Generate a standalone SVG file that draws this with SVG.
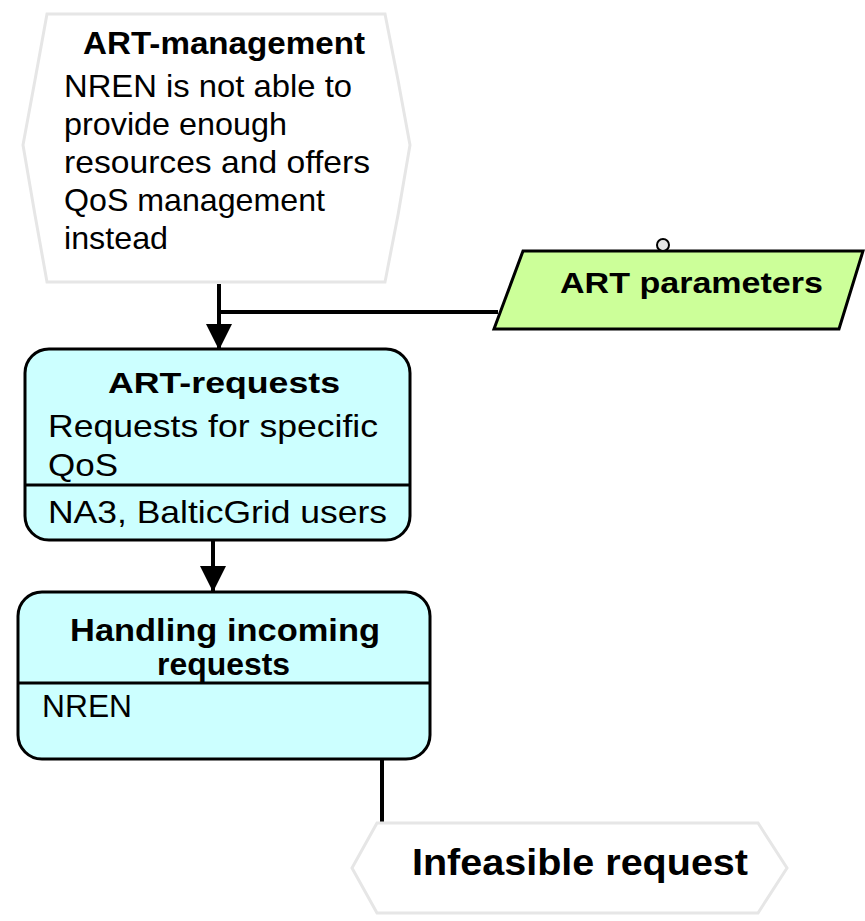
<svg xmlns="http://www.w3.org/2000/svg" width="865" height="921" viewBox="0 0 865 921">
  <style>
    text { font-family: "Liberation Sans", Arial, sans-serif; fill: #000; }
    .t { font-weight: bold; }
    .body { font-size: 32px; }
    .event { fill: #ffffff; stroke: #e6e6e6; stroke-width: 3; }
    .func { fill: #ccffff; stroke: #000; stroke-width: 3; }
    .info { fill: #ccff99; stroke: #000; stroke-width: 3; }
    .edge { fill: none; stroke: #000; stroke-width: 4; }
  </style>
  <defs>
    <marker id="arrow" viewBox="0 0 26 26" refX="26" refY="13" markerWidth="26" markerHeight="26" markerUnits="userSpaceOnUse" orient="auto">
      <path d="M0,0 L26,13 L0,26 Z" fill="#000"/>
    </marker>
  </defs>

  <rect width="865" height="921" fill="#ffffff"/>

  <!-- connectors -->
  <g id="connectors">
    <path class="edge" d="M219,284 L219,350" marker-end="url(#arrow)"/>
    <path class="edge" d="M219,312 L498,312"/>
    <path class="edge" d="M213,538 L213,592" marker-end="url(#arrow)"/>
    <path class="edge" d="M382,760 L382,830"/>
  </g>

  <!-- event: ART-management -->
  <g id="art-management">
    <polygon class="event" points="47,14 385,14 398,80 410,145 398,215 385,282 47,282 35,215 23,145 35,80"/>
    <text class="t" x="83" y="54" font-size="32" textLength="282" lengthAdjust="spacingAndGlyphs">ART-management</text>
    <text class="body" x="64" y="97" textLength="288" lengthAdjust="spacingAndGlyphs">NREN is not able to</text>
    <text class="body" x="64" y="135" textLength="223" lengthAdjust="spacingAndGlyphs">provide enough</text>
    <text class="body" x="64" y="173" textLength="306" lengthAdjust="spacingAndGlyphs">resources and offers</text>
    <text class="body" x="64" y="211" textLength="261" lengthAdjust="spacingAndGlyphs">QoS management</text>
    <text class="body" x="64" y="249" textLength="104" lengthAdjust="spacingAndGlyphs">instead</text>
  </g>

  <!-- information object: ART parameters -->
  <g id="art-parameters">
    <polygon class="info" points="523,251 863,251 839,329 494,329"/>
    <circle cx="663" cy="245" r="6" fill="#e6e6e6" stroke="#000" stroke-width="2"/>
    <text class="t" x="560" y="293" font-size="30" textLength="263" lengthAdjust="spacingAndGlyphs">ART parameters</text>
  </g>

  <!-- function: ART-requests -->
  <g id="art-requests">
    <rect class="func" x="25" y="349" width="385" height="191" rx="24" ry="24"/>
    <line x1="25" y1="485" x2="410" y2="485" stroke="#000" stroke-width="3"/>
    <text class="t" x="108" y="393" font-size="30" textLength="232" lengthAdjust="spacingAndGlyphs">ART-requests</text>
    <text class="body" x="48" y="437" textLength="330" lengthAdjust="spacingAndGlyphs">Requests for specific</text>
    <text class="body" x="48" y="476" textLength="70" lengthAdjust="spacingAndGlyphs">QoS</text>
    <text class="body" x="48" y="523" textLength="339" lengthAdjust="spacingAndGlyphs">NA3, BalticGrid users</text>
  </g>

  <!-- function: Handling incoming requests -->
  <g id="handling-requests">
    <rect class="func" x="18" y="592" width="412" height="167" rx="24" ry="24"/>
    <line x1="18" y1="683" x2="430" y2="683" stroke="#000" stroke-width="3"/>
    <text class="t" x="70" y="641" font-size="32" textLength="310" lengthAdjust="spacingAndGlyphs">Handling incoming</text>
    <text class="t" x="157" y="675" font-size="32" textLength="133" lengthAdjust="spacingAndGlyphs">requests</text>
    <text class="body" x="42" y="717" textLength="90" lengthAdjust="spacingAndGlyphs">NREN</text>
  </g>

  <!-- event: Infeasible request -->
  <g id="infeasible-request">
    <polygon class="event" points="377,823 758,823 787,868 758,913 377,913 352,868"/>
    <text class="t" x="412" y="875" font-size="37" textLength="336" lengthAdjust="spacingAndGlyphs">Infeasible request</text>
  </g>
</svg>
